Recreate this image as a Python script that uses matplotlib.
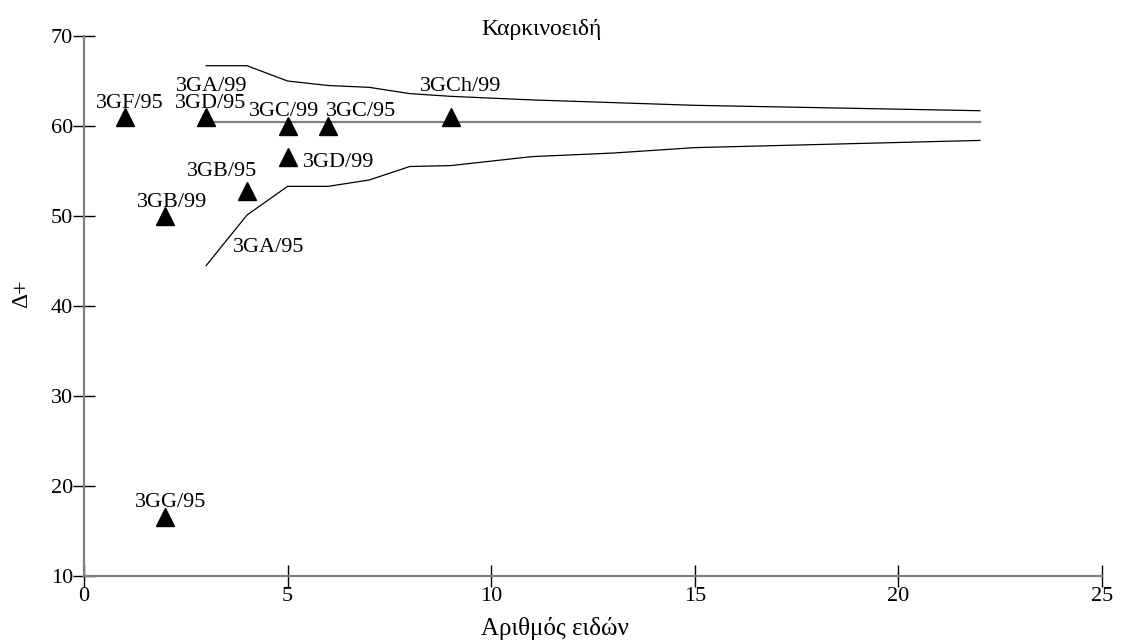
import matplotlib
matplotlib.use("Agg")
import matplotlib.pyplot as plt

plt.rcParams['font.family'] = ['Liberation Serif', 'DejaVu Serif']

# points (species count, delta+)
sites = ["3GF/95", "3GD/95", "3GC/99", "3GC/95", "3GCh/99", "3GD/99", "3GB/95", "3GB/99", "3GG/95"]
n_species = [1, 3, 5, 6, 9, 5, 4, 2, 2]
delta_plus = [61.0, 61.0, 60.0, 60.0, 61.0, 56.6, 52.8, 50.0, 16.6]

# funnel limits and mean
funnel_x = [3, 4, 5, 6, 7, 8, 9, 10, 11, 13, 15, 22]
upper = [66.7, 66.7, 65.0, 64.5, 64.3, 63.6, 63.3, 63.1, 62.9, 62.6, 62.3, 61.7]
lower = [44.5, 50.1, 53.3, 53.3, 54.0, 55.5, 55.6, 56.1, 56.6, 57.0, 57.6, 58.4]
mean_x = [3, 22]
mean_val = [60.4, 60.4]

# label positions (data coords, baseline)
labels = ["3GF/95", "3GA/99", "3GD/95", "3GC/99", "3GC/95", "3GCh/99", "3GD/99", "3GB/95", "3GB/99", "3GA/95", "3GG/95"]
lab_x = [1.13, 3.14, 3.1, 4.91, 6.8, 9.26, 5.38, 3.4, 2.15, 4.54, 2.12]
lab_y = [62.0, 63.9, 62.0, 61.1, 61.1, 63.9, 55.4, 54.4, 51.0, 46.0, 17.7]
lab_ha = ["center", "center", "center", "center", "center", "center", "left", "center", "center", "center", "center"]

fig = plt.figure(figsize=(11.22, 6.41), dpi=100)
ax = fig.add_axes([0.0749, 0.1014, 0.9073, 0.8424])

ax.plot(funnel_x, upper, color="black", lw=0.9)
ax.plot(funnel_x, lower, color="black", lw=0.9)
ax.plot(mean_x, mean_val, color="#808080", lw=1.6)
ax.plot(n_species, delta_plus, linestyle="none", marker="^", markersize=13, color="black")

for t, x, y, ha in zip(labels, lab_x, lab_y, lab_ha):
    ax.text(x, y, t, ha=ha, va="baseline", fontsize=16)

ax.set_xlim(0, 25)
ax.set_ylim(10, 70)
ax.set_xticks([0, 5, 10, 15, 20, 25])
ax.set_yticks([10, 20, 30, 40, 50, 60, 70])

for s in ["top", "right"]:
    ax.spines[s].set_visible(False)
for s in ["left", "bottom"]:
    ax.spines[s].set_color("#808080")
    ax.spines[s].set_linewidth(1.6)

ax.tick_params(axis="both", direction="inout", length=16, width=1, colors="black", labelsize=16, pad=0)

ax.set_xlabel("Αριθμός ειδών", fontsize=18, va="baseline")
ax.xaxis.set_label_coords(0.4627, -0.109)
ax.set_ylabel("Δ+", fontsize=17, va="center")
ax.yaxis.set_label_coords(-0.0609, 0.522)
ax.text(0.449, 1.002, "Καρκινοειδή", transform=ax.transAxes, ha="center", va="baseline", fontsize=17)

fig.savefig("out.png", dpi=100)
